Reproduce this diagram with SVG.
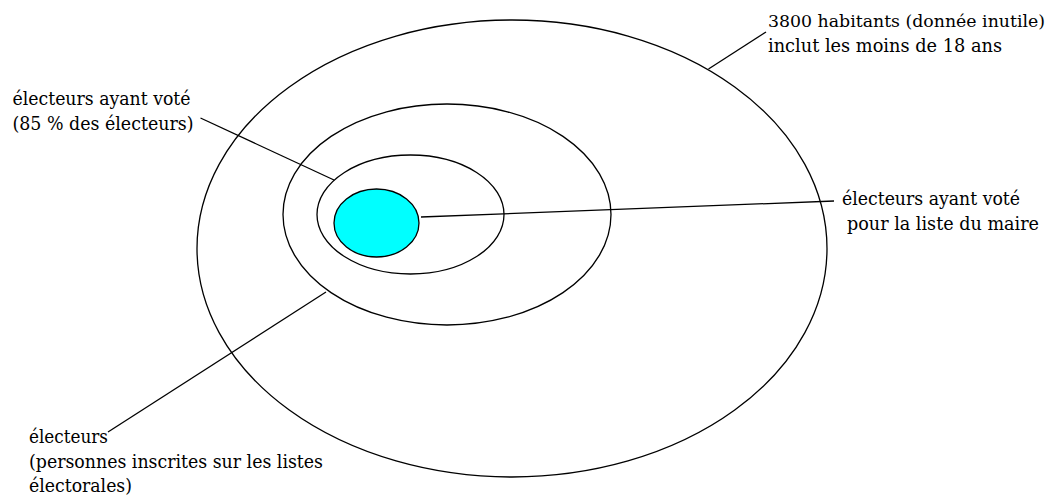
<svg xmlns="http://www.w3.org/2000/svg" width="1052" height="500" viewBox="0 0 1052 500">
<style>
.sh{fill:none;stroke:#000;stroke-width:1.3}
.ln{stroke:#000;stroke-width:1.3;fill:none}
</style>
<rect width="1052" height="500" fill="#fff"/>
<g id="habitants"><ellipse class="sh" cx="512" cy="248.5" rx="315" ry="228.5"/></g>
<g id="electeurs"><ellipse class="sh" cx="447" cy="214.5" rx="164" ry="110.5"/></g>
<g id="votants"><ellipse class="sh" cx="410.5" cy="214.5" rx="93.5" ry="59.5"/></g>
<g id="maire"><ellipse cx="376.5" cy="223" rx="42.5" ry="34" fill="#00ffff" stroke="#000" stroke-width="1.3"/></g>
<g id="connectors">
<line class="ln" x1="708.5" y1="69" x2="766" y2="32"/>
<line class="ln" x1="200.5" y1="118" x2="334" y2="180"/>
<line class="ln" x1="421" y1="217" x2="834" y2="201"/>
<line class="ln" x1="326" y1="292" x2="108" y2="432"/>
</g>
<g font-family="DejaVu Serif, serif" font-size="18.5" fill="#000">
<g id="label-habitants">
<text x="768" y="27" font-size="17.5" textLength="277" lengthAdjust="spacingAndGlyphs">3800 habitants (donnée inutile)</text>
<text x="768" y="52" textLength="234" lengthAdjust="spacingAndGlyphs">inclut les moins de 18 ans</text>
</g>
<g id="label-votants">
<text x="12.5" y="105" textLength="178" lengthAdjust="spacingAndGlyphs">électeurs ayant voté</text>
<text x="12.5" y="130" textLength="181" lengthAdjust="spacingAndGlyphs">(85 % des électeurs)</text>
</g>
<g id="label-maire">
<text x="842" y="205" textLength="178" lengthAdjust="spacingAndGlyphs">électeurs ayant voté</text>
<text x="847" y="230" textLength="192" lengthAdjust="spacingAndGlyphs">pour la liste du maire</text>
</g>
<g id="label-electeurs">
<text x="29" y="443" textLength="79" lengthAdjust="spacingAndGlyphs">électeurs</text>
<text x="29" y="468" textLength="294" lengthAdjust="spacingAndGlyphs">(personnes inscrites sur les listes</text>
<text x="29" y="492" textLength="103" lengthAdjust="spacingAndGlyphs">électorales)</text>
</g>
</g>
</svg>
